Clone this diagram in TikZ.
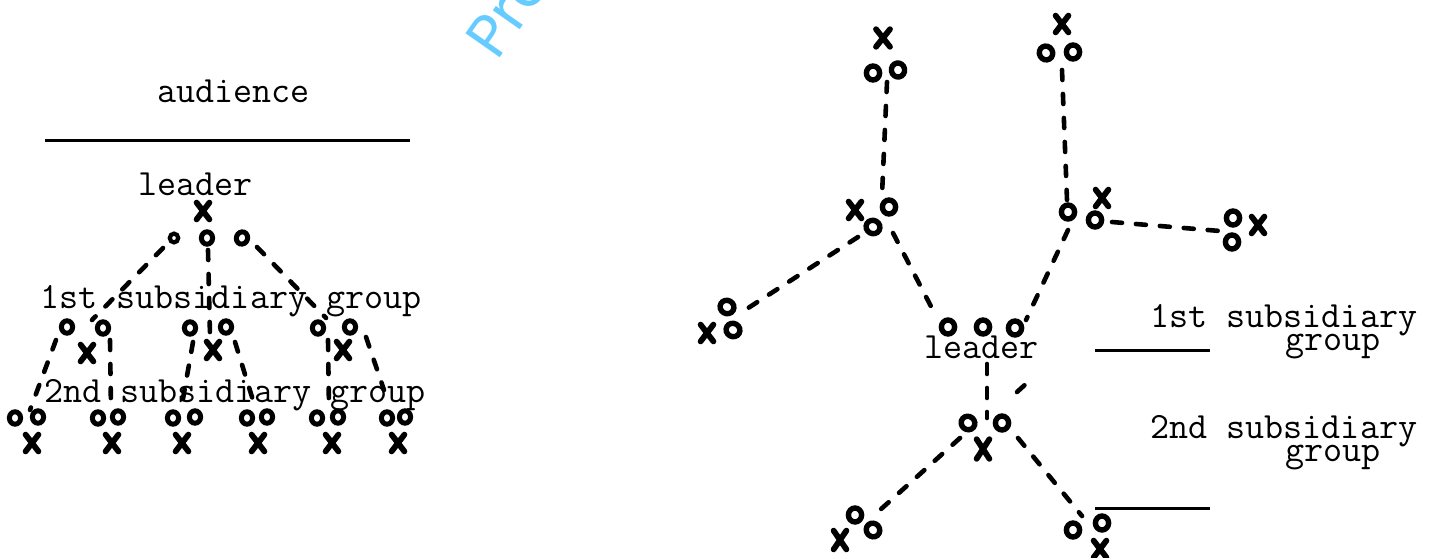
\documentclass[tikz,border=0pt]{standalone}
\usepackage{fontspec}
\usetikzlibrary{shapes.geometric}
\newfontfamily\wmfont{Poppins}
\definecolor{wmblue}{RGB}{102,204,255}
\begin{document}
\begin{tikzpicture}[x=0.5pt,y=-0.5pt,
  om/.style={ellipse, draw=black, line width=2.5pt, inner sep=0pt, minimum width=5.6pt, minimum height=6.2pt},
  omr/.style={ellipse, draw=black, line width=2.7pt, inner sep=0pt, minimum width=6.6pt, minimum height=7pt},
  osm/.style={ellipse, draw=black, line width=2.1pt, inner sep=0pt, minimum width=4.2pt, minimum height=4.4pt},
  xs/.style={draw=black, line width=2.9pt, line cap=round},
  xm/.style={inner sep=0pt, minimum width=6pt, minimum height=8pt,
    append after command={(\tikzlastnode.north west) edge[xs] (\tikzlastnode.south east)
                          (\tikzlastnode.north east) edge[xs] (\tikzlastnode.south west)}},
  dl/.style={draw=black, line width=2.3pt, line cap=round, dash pattern=on 5pt off 7pt},
  hl/.style={draw=black, line width=1.5pt},
  txt/.style={font=\fontsize{18.5}{20}\selectfont\ttfamily, inner sep=0pt, anchor=base west},
  wm/.style={font=\wmfont\fontsize{30}{32}\selectfont, text=wmblue, inner sep=0pt, anchor=base west}
]
\useasboundingbox (0,0) rectangle (1434,557);
\clip (0,0) rectangle (1434,557);

% watermark
\node[wm, rotate=55] (wmark) at (497,62) {Pro};

% ---------------- left diagram ----------------
\node[txt] (aud) at (157,102) {audience};
\coordinate (audL) at (45,140);
\coordinate (audR) at (410,140);
\draw[hl] (audL) -- (audR);

\node[txt] (lead1) at (138,195) {leader};
\node[xm] (lx0) at (203,211) {};
\node[osm] (lo0a) at (174,238) {};
\node[om] (lo0b) at (207,238) {};
\node[om, rotate=-20] (lo0c) at (242,238) {};

\node[txt] (sub1) at (40,308) {1st subsidiary group};
\node[txt] (sub2) at (44,402) {2nd subsidiary group};

% first subsidiary groups
\node[om] (lAo1) at (67,327) {};
\node[om] (lAo2) at (103,328) {};
\node[xm] (lAx) at (87,353) {};
\node[om] (lBo1) at (190,328) {};
\node[om] (lBo2) at (226,327) {};
\node[xm] (lBx) at (213,350) {};
\node[om] (lCo1) at (318,328) {};
\node[om] (lCo2) at (350,327) {};
\node[xm] (lCx) at (343,350) {};

% second subsidiary groups (leaves)
\foreach \n/\a/\b/\c in {1/15/38/32, 2/98/118/112, 3/173/195/182, 4/247/267/258, 5/317/338/332, 6/387/405/398}{
  \node[om] (l\n o1) at (\a,418) {};
  \node[om] (l\n o2) at (\b,417) {};
  \node[xm] (l\n x) at (\c,443) {};
}

% connectors left
\coordinate (ld1s) at (163,248); \coordinate (ld1e) at (92,320);
\coordinate (ld2s) at (208,250); \coordinate (ld2e) at (210,336);
\coordinate (ld3s) at (257,247); \coordinate (ld3e) at (326,318);
\coordinate (ld4s) at (56,340);  \coordinate (ld4e) at (30,410);
\coordinate (ld5s) at (110,340); \coordinate (ld5e) at (111,410);
\coordinate (ld6s) at (193,342); \coordinate (ld6e) at (181,410);
\coordinate (ld7s) at (235,342); \coordinate (ld7e) at (256,410);
\coordinate (ld8s) at (328,340); \coordinate (ld8e) at (329,410);
\coordinate (ld9s) at (366,337); \coordinate (ld9e) at (384,390);
\foreach \i in {1,...,9}{\draw[dl] (ld\i s) -- (ld\i e);}

% ---------------- right diagram ----------------
% top-left
\node[xm, minimum width=6.6pt, minimum height=8.4pt] (rTLx) at (883,38) {};
\node[omr] (rTLo1) at (873,73) {};
\node[omr, rotate=10] (rTLo2) at (898,70) {};
% top-right
\node[xm] (rTRx) at (1062,24) {};
\node[omr, rotate=30] (rTRo1) at (1046,53) {};
\node[omr] (rTRo2) at (1073,52) {};
% middle-left
\node[xm] (rMLx) at (855,210) {};
\node[omr] (rMLo1) at (889,207) {};
\node[omr, rotate=60] (rMLo2) at (873,227) {};
% middle-right
\node[omr] (rMRo1) at (1068,212) {};
\node[omr] (rMRo2) at (1095,220) {};
\node[xm] (rMRx) at (1102,198) {};
% far-right
\node[omr] (rFRo1) at (1233,218) {};
\node[omr] (rFRo2) at (1232,242) {};
\node[xm] (rFRx) at (1258,225) {};
% far-left
\node[xm] (rFLx) at (707,333) {};
\node[omr, rotate=60] (rFLo1) at (727,307) {};
\node[omr, rotate=60] (rFLo2) at (733,330) {};
% leader
\node[omr] (rLo1) at (948,327) {};
\node[omr] (rLo2) at (983,327) {};
\node[omr] (rLo3) at (1015,328) {};
\node[txt] (lead2) at (924,358) {leader};
% lower
\node[omr, rotate=50] (rWo1) at (968,423) {};
\node[omr] (rWo2) at (1002,423) {};
\node[xm, minimum height=9.4pt] (rWx) at (983,449) {};
% lower-left
\node[xm, minimum height=9pt] (rLLx) at (840,540) {};
\node[omr] (rLLo1) at (855,515) {};
\node[omr, rotate=40] (rLLo2) at (873,530) {};
% lower-right
\node[omr] (rLRo1) at (1073,530) {};
\node[omr] (rLRo2) at (1102,523) {};
\node[xm] (rLRx) at (1100,549) {};

% labels right
\node[txt] (g1a) at (1150,327) {1st subsidiary};
\node[txt] (g1b) at (1285,350) {group};
\node[txt] (g2a) at (1150,438) {2nd subsidiary};
\node[txt] (g2b) at (1285,461) {group};
\coordinate (h1L) at (1095,350); \coordinate (h1R) at (1210,350);
\coordinate (h2L) at (1095,508); \coordinate (h2R) at (1210,508);
\draw[hl] (h1L) -- (h1R);
\draw[hl] (h2L) -- (h2R);

% connectors right
\coordinate (rd1s) at (887,82);   \coordinate (rd1e) at (882,195);
\coordinate (rd2s) at (1062,70);  \coordinate (rd2e) at (1067,200);
\coordinate (rd3s) at (858,237);  \coordinate (rd3e) at (742,312);
\coordinate (rd4s) at (893,233);  \coordinate (rd4e) at (937,318);
\coordinate (rd5s) at (1068,230); \coordinate (rd5e) at (1026,320);
\coordinate (rd6s) at (1112,222); \coordinate (rd6e) at (1220,231);
\coordinate (rd7s) at (987,364);  \coordinate (rd7e) at (987,418);
\coordinate (rd8s) at (1017,392); \coordinate (rd8e) at (1028,382);
\coordinate (rd9s) at (960,438);  \coordinate (rd9e) at (880,510);
\coordinate (rd10s) at (1018,438); \coordinate (rd10e) at (1082,516);
\foreach \i in {1,...,10}{\draw[dl] (rd\i s) -- (rd\i e);}
\end{tikzpicture}
\end{document}
